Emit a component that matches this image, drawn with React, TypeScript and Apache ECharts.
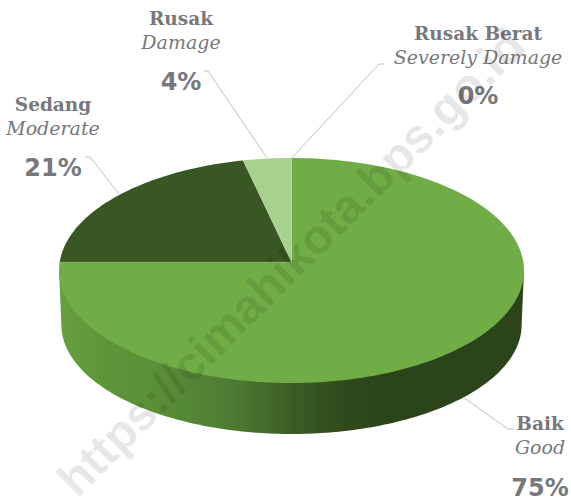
import React, { useEffect, useRef } from "react";
import * as echarts from "echarts";

const categories = ["Baik", "Sedang", "Rusak", "Rusak Berat"];
const subtitles = ["Good", "Moderate", "Damage", "Severely Damage"];
const values = [75.0, 21.4, 3.6, 0];
const topColors = ["#70AD47", "#385723", "#A9D18E", "#C5E0B4"];
const labelCenters = [
  [540, 423],
  [53, 104],
  [181, 18],
  [478, 33],
];
const percentOffsets = [65, 64, 64, 63];
const leaders = [
  [[463, 397], [508, 429], [514, 429]],
  [[119, 194], [90, 157], [85, 157]],
  [[267, 158], [208, 71], [204, 71]],
  [[291.7, 158], [379, 64], [384, 64]],
];
const WATERMARK = "https://cimahikota.bps.go.id";

const cx = 291.5;
const apexY = 262;
const A = 231.8;
const B = 111.85;
const k = 0.0755;
const rad = (d: number) => (d * Math.PI) / 180;
const topPt = (deg: number) => {
  const X = Math.sin(rad(deg));
  const Y = -Math.cos(rad(deg));
  const w = 1 - k * Y;
  return [cx + (A * X) / w, apexY + (B * Y) / w];
};
const insetPt = (deg: number) => {
  const p = topPt(deg);
  return [cx + (p[0] - cx) * 0.985, apexY + (p[1] - apexY) * 0.985];
};
const botPt = (deg: number) => {
  const p = topPt(deg);
  return [cx + (p[0] - cx) * 0.99, 434 + (p[1] - 383) * 0.97];
};
const WALL_R = (Math.acos(-k) * 180) / Math.PI;
const WALL_L = 360 - WALL_R;
const total = values.reduce((a, b) => a + b, 0);

const arcRange = (from: number, to: number, fn: (d: number) => number[]) => {
  const pts: number[][] = [];
  const n = Math.max(2, Math.ceil(Math.abs(to - from)));
  for (let i = 0; i <= n; i++) pts.push(fn(from + ((to - from) * i) / n));
  return pts;
};

const wallGradient = {
  type: "linear",
  global: true,
  x: 59,
  y: 0,
  x2: 524,
  y2: 0,
  colorStops: [
    { offset: 0, color: "#66A03F" },
    { offset: 0.1, color: "#5F9539" },
    { offset: 0.22, color: "#598E37" },
    { offset: 0.37, color: "#4E7C33" },
    { offset: 0.5, color: "#3C5E25" },
    { offset: 0.62, color: "#2F491C" },
    { offset: 0.7, color: "#2C441A" },
    { offset: 1, color: "#2C441A" },
  ],
};

export default function App() {
  const ref = useRef<HTMLDivElement>(null);
  useEffect(() => {
    const chart = echarts.init(ref.current!, undefined, { renderer: "svg" });
    const serif = "'DejaVu Serif', serif";
    const textColor = "#76787B";
    const texts: any[] = [];
    categories.forEach((c, i) => {
      const [x, y] = labelCenters[i];
      const base = { align: "center", verticalAlign: "middle", fill: textColor };
      texts.push({ type: "text", x, y, z: 5, style: { ...base, text: c, font: `bold 18.5px ${serif}` } });
      texts.push({ type: "text", x, y: y + 24, z: 5, style: { ...base, text: subtitles[i], font: `italic 19px ${serif}` } });
      texts.push({
        type: "text", x, y: y + percentOffsets[i], z: 5,
        style: { ...base, text: `${Math.round((values[i] / total) * 100)}%`, font: "bold 24px 'DejaVu Sans', sans-serif" },
      });
      texts.push({
        type: "polyline", z: 4,
        shape: { points: leaders[i] },
        style: { stroke: "#BFBFBF", lineWidth: 1, fill: "none" },
      });
    });
    chart.setOption({
      animation: false,
      backgroundColor: "#ffffff",
      series: [
        {
          type: "custom",
          coordinateSystem: "none",
          silent: true,
          data: values.map((v) => [v]),
          renderItem: (params: any, api: any) => {
            const idx = params.dataIndex;
            const v = api.value(0);
            if (!v) return null;
            const before = values.slice(0, idx).reduce((a, b) => a + b, 0);
            const start = (before / total) * 360;
            const end = ((before + v) / total) * 360;
            const children: any[] = [];
            const a = Math.max(start, WALL_R);
            const b = Math.min(end, WALL_L);
            if (b > a) {
              children.push({
                type: "polygon",
                shape: { points: [topPt(a), ...arcRange(a + 2, b - 2, insetPt), topPt(b), ...arcRange(b, a, botPt)] },
                style: { fill: wallGradient },
              });
            }
            children.push({
              type: "polygon",
              shape: { points: [[cx, apexY], ...arcRange(start, end, topPt)] },
              style: { fill: topColors[idx] },
            });
            const s = topPt(start);
            children.push({
              type: "line",
              shape: { x1: cx, y1: apexY, x2: s[0], y2: s[1] },
              style: { stroke: "rgba(255,255,255,0.22)", lineWidth: 0.7 },
            });
            return { type: "group", children };
          },
        },
      ],
      graphic: {
        elements: [
          ...texts,
          {
            type: "text",
            x: 291,
            y: 262,
            rotation: Math.PI / 4,
            z: 20,
            silent: true,
            style: {
              text: WATERMARK,
              align: "center",
              verticalAlign: "middle",
              fill: "rgba(0,0,0,0.1)",
              font: "bold 48px 'Liberation Sans', sans-serif",
            },
          },
        ],
      },
    });
    return () => chart.dispose();
  }, []);
  return <div ref={ref} style={{ position: "absolute", left: 0, top: 0, width: 571, height: 501 }} />;
}
